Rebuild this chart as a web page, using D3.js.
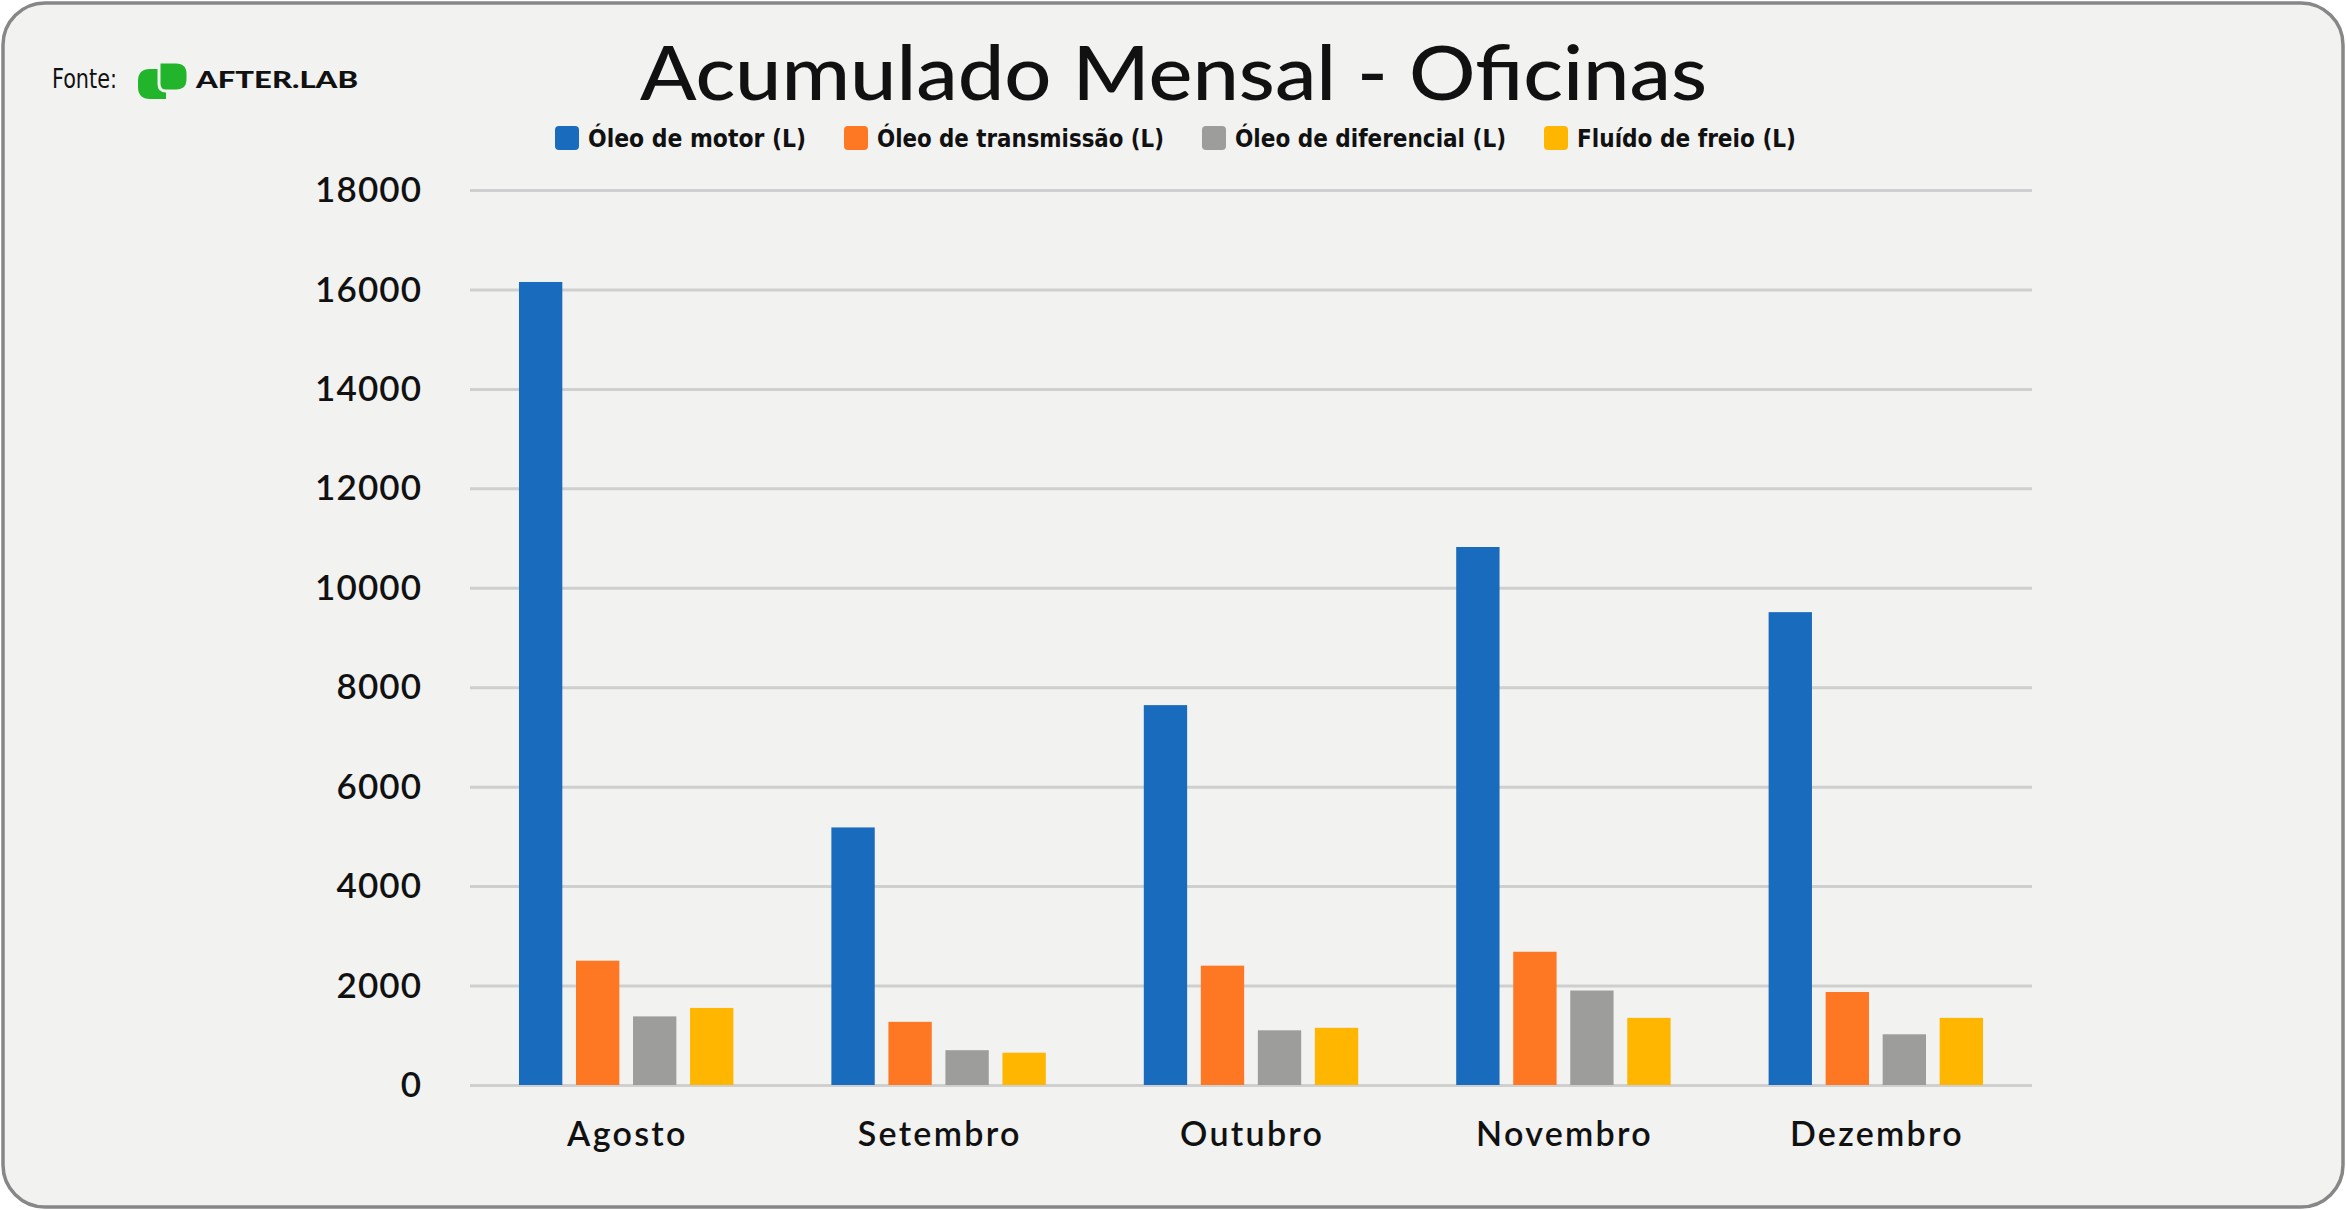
<!DOCTYPE html>
<html><head><meta charset="utf-8">
<script src="https://cdn.jsdelivr.net/npm/d3@7"></script>
<style>html,body{margin:0;padding:0;background:#fff;} svg{display:block}</style>
</head><body>
<script>
// ---- data ----
const months = ["Agosto", "Setembro", "Outubro", "Novembro", "Dezembro"];
const seriesNames = ["Óleo de motor (L)", "Óleo de transmissão (L)", "Óleo de diferencial (L)", "Fluído de freio (L)"];
const oleoMotor = [16150, 5180, 7640, 10820, 9510];
const oleoTransmissao = [2500, 1270, 2400, 2680, 1870];
const oleoDiferencial = [1380, 700, 1100, 1900, 1020];
const fluidoFreio = [1550, 650, 1150, 1350, 1350];
const yTicks = [0, 2000, 4000, 6000, 8000, 10000, 12000, 14000, 16000, 18000];
const titleText = "Acumulado Mensal - Oficinas";
const sourceLabel = "Fonte:";
const brandName = "AFTER.LAB";

const seriesValues = [oleoMotor, oleoTransmissao, oleoDiferencial, fluidoFreio];
const colors = ["#186bbd", "#fe7722", "#9d9d9b", "#feb600"];

const W = 2346, H = 1210;
const svg = d3.select("body").append("svg").attr("width", W).attr("height", H);

// frame
svg.append("rect").attr("x", 3).attr("y", 3).attr("width", W - 6).attr("height", H - 6)
  .attr("rx", 42).attr("fill", "#f2f2f1").attr("stroke", "#878787").attr("stroke-width", 3.5);

const plotL = 470, plotR = 2032, plotT = 190, plotB = 1085;

const x0 = d3.scaleBand().domain(months).range([plotL, plotR]).paddingInner(0.3137).paddingOuter(0.1568);
const x1 = d3.scaleBand().domain(seriesNames).range([0, x0.bandwidth()]).paddingInner(0.24);
const y = d3.scaleLinear().domain([0, 18000]).range([plotB, plotT]);

// y axis with gridlines
const yAxis = svg.append("g").attr("transform", `translate(${plotL},0)`)
  .call(d3.axisLeft(y).tickValues(yTicks).tickFormat(d3.format("d"))
    .tickSizeInner(-(plotR - plotL)).tickSizeOuter(0).tickPadding(49));
yAxis.select(".domain").remove();
yAxis.selectAll(".tick line").attr("stroke", "#cfcfcf").attr("stroke-width", 3);
yAxis.selectAll(".tick text")
  .attr("font-family", "Lato, 'Open Sans', sans-serif").attr("font-size", 35)
  .attr("font-weight", 600).attr("fill", "#111").attr("dy", "0.33em");
(function(){
  const t = yAxis.selectAll(".tick text").filter(d => d === 18000).node();
  const w = t.getComputedTextLength();
  const ls = (107 - w) / 5;
  yAxis.selectAll(".tick text").attr("letter-spacing", ls).attr("dx", ls);
})();

// bars
const groups = svg.append("g").selectAll("g").data(months).join("g")
  .attr("transform", d => `translate(${x0(d)},0)`);
groups.selectAll("rect")
  .data((m, i) => seriesNames.map((s, k) => ({ s, k, v: seriesValues[k][i] })))
  .join("rect")
  .attr("x", d => x1(d.s))
  .attr("width", x1.bandwidth())
  .attr("y", d => y(d.v))
  .attr("height", d => y(0) - y(d.v))
  .attr("fill", d => colors[d.k]);

// x axis labels
const xAxis = svg.append("g").attr("transform", `translate(0,${plotB})`)
  .call(d3.axisBottom(x0).tickSize(0).tickPadding(37));
xAxis.select(".domain").remove();
xAxis.selectAll(".tick text")
  .attr("font-family", "Lato, 'Open Sans', sans-serif").attr("font-size", 34)
  .attr("font-weight", 600).attr("fill", "#111");
(function(){
  const t = xAxis.selectAll(".tick text").filter(d => d === "Setembro").node();
  const w = t.getComputedTextLength();
  const ls = (164 - w) / 8;
  xAxis.selectAll(".tick text").attr("letter-spacing", ls).attr("dx", ls / 2);
})();

// title
svg.append("text").attr("x", 640).attr("y", 100)
  .attr("font-family", "Lato, 'Open Sans', sans-serif").attr("font-size", 76)
  .attr("font-weight", 500).attr("fill", "#111")
  .attr("textLength", 1067).attr("lengthAdjust", "spacingAndGlyphs")
  .text(titleText);

// legend
const legendTextW = [218, 287, 271, 219];
const legend = svg.append("g");
let lx = 555;
seriesNames.forEach((s, k) => {
  legend.append("rect").attr("x", lx).attr("y", 126).attr("width", 24).attr("height", 24)
    .attr("rx", 4).attr("fill", colors[k]);
  legend.append("text").attr("x", lx + 33).attr("y", 147)
    .attr("font-family", "'DejaVu Sans Condensed', 'DejaVu Sans', sans-serif")
    .attr("font-stretch", "condensed").attr("font-weight", "bold")
    .attr("font-size", 24).attr("fill", "#111")
    .attr("textLength", legendTextW[k]).attr("lengthAdjust", "spacingAndGlyphs")
    .text(s);
  lx += 24 + 9 + legendTextW[k] + 38;
});

// source / logo
svg.append("text").attr("x", 52).attr("y", 88)
  .attr("font-family", "'DejaVu Sans Condensed', 'DejaVu Sans', sans-serif")
  .attr("font-size", 26).attr("fill", "#111")
  .attr("textLength", 65).attr("lengthAdjust", "spacingAndGlyphs")
  .text(sourceLabel);
const logo = svg.append("g");
const green = "#22b52b";
// left leaf: rounded left corners, lower position
logo.append("path").attr("fill", green)
  .attr("d", "M150,69 H166 V99 H150 Q138,99 138,87 V81 Q138,69 150,69 Z");
// right leaf: rounded right corners, upper position
logo.append("path").attr("fill", green).attr("stroke", "#f2f2f1").attr("stroke-width", 3)
  .attr("d", "M157,62 H176 Q188,62 188,74 V79 Q188,91 176,91 H166 Q159,91 159,84 V62 Z");
logo.append("text").attr("x", 196).attr("y", 88)
  .attr("font-family", "Lato, sans-serif").attr("font-weight", 900)
  .attr("font-size", 22).attr("fill", "#111")
  .attr("textLength", 162).attr("lengthAdjust", "spacingAndGlyphs")
  .text(brandName);
</script>
</body></html>
